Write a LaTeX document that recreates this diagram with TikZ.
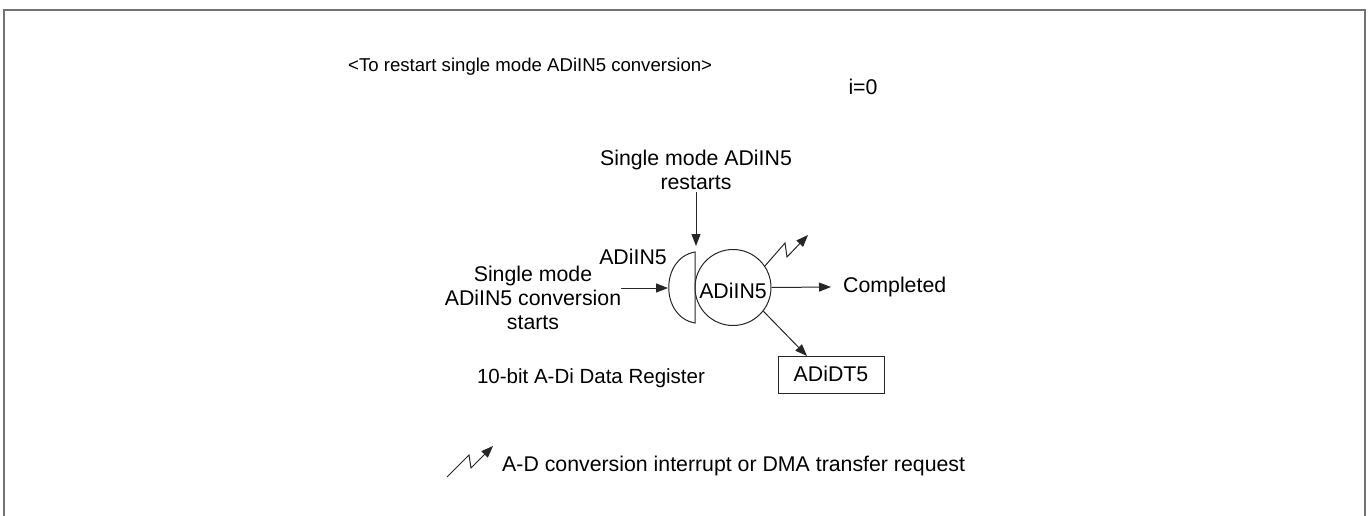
\documentclass[tikz,border=0pt]{standalone}
\usepackage{fontspec}
\setmainfont{Liberation Sans}
\usetikzlibrary{arrows.meta}
\tikzset{
  txt/.style={inner sep=0pt, font=\fontsize{21.3}{24}\selectfont},
  txts/.style={inner sep=0pt, font=\fontsize{20.5}{24}\selectfont},
  ttl/.style={inner sep=0pt, font=\fontsize{18.6}{22}\selectfont},
  ln/.style={line width=1pt, draw=black!85},
  arr/.style={ln, -{Triangle[length=12pt,width=9pt]}},
  frame/.style={line width=1.6pt, draw=black!55},
}
\begin{document}
\begin{tikzpicture}[x=1pt,y=-1pt]
\useasboundingbox (0,0) rectangle (1370,516);
\draw[frame] (4,516) -- (4,10) -- (1365,10) -- (1365,516);

\node[ttl, anchor=west] (title) at (348,67) {<To restart single mode ADiIN5 conversion>};
\node[txt] (i0) at (863,87) {i=0};

\node[txt, align=center] (restart) at (696,170) {Single mode ADiIN5\\restarts};
\node[txt, align=center] (start) at (533,298) {Single mode\\ADiIN5 conversion\\starts};
\node[txt] (lbl) at (633,257) {ADiIN5};

% D-shaped register half
\draw[ln] (695,252) .. controls (660,258) and (660,317) .. (695,323) -- cycle;
\coordinate (dtop) at (696,246);
\coordinate (dleft) at (668,288);

\node[circle, ln, minimum size=76pt, inner sep=0pt] (c) at (733,287.5) {};
\node[txt] (ctext) at (733,291) {ADiIN5};

\node[txt, anchor=west] (comp) at (843,287) {Completed};
\node[ln, rectangle, minimum width=106pt, minimum height=37pt, inner sep=0pt] (box) at (831,374.5) {};
\node[txt] (boxt) at (831,374) {ADiDT5};

\node[txts] (reg) at (591,378) {10-bit A-Di Data Register};
\node[txt, anchor=west] (leg) at (502,466) {A-D conversion interrupt or DMA transfer request};

% connectors
\coordinate (rtop) at (696,192);
\draw[arr] (rtop) -- (dtop);
\coordinate (sarr) at (621,288);
\draw[arr] (sarr) -- (dleft);
\coordinate (ctip) at (831,287);
\draw[arr] (c.east) -- (ctip);
\coordinate (btip) at (807,356);
\draw[arr] (c.-38) -- (btip);

% lightning arrow from circle
\coordinate (l1) at (785,243);
\coordinate (l2) at (787,257);
\coordinate (l3) at (808,235);
\draw[arr] (c.34) -- (l1) -- (l2) -- (l3);

% legend lightning
\coordinate (g0) at (447,477);
\coordinate (g1) at (469,455);
\coordinate (g2) at (471,468);
\coordinate (g3) at (493,446);
\draw[arr] (g0) -- (g1) -- (g2) -- (g3);
\end{tikzpicture}
\end{document}
